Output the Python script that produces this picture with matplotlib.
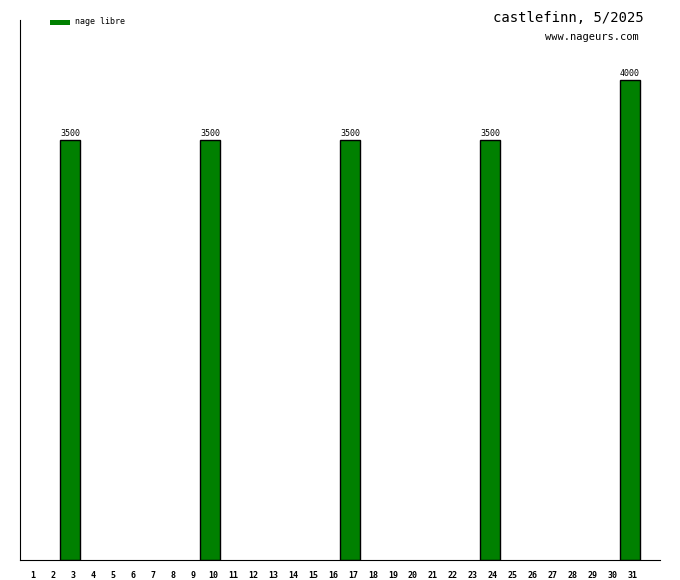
import matplotlib
matplotlib.use('Agg')
import matplotlib.pyplot as plt
import matplotlib.transforms as mtransforms
from matplotlib.patches import Rectangle

# data
days = list(range(1, 32))
swim_days = [3, 10, 17, 24, 31]
swim_values = [3500, 3500, 3500, 3500, 4000]
title = 'castlefinn, 5/2025'
site = 'www.nageurs.com'
legend_label = 'nage libre'

W, H = 680, 580
fig = plt.figure(figsize=(W / 100, H / 100), dpi=100)
ax = fig.add_axes([20 / W, 20 / H, 640 / W, 540 / H])

ax.bar(swim_days, swim_values, width=1.0, color='#008000', edgecolor='black', linewidth=1)
for d, v in zip(swim_days, swim_values):
    ax.text(d, v + 20, str(v), ha='center', va='bottom', fontsize=6, family='DejaVu Sans Mono')

ax.set_xlim(0.5, 32.5)
ax.set_ylim(0, 4500)
ax.set_xticks(days)
ax.set_xticklabels([str(d) for d in days], fontsize=6, family='DejaVu Sans Mono', fontweight='bold')
ax.tick_params(axis='x', length=0, pad=8)
# labels sit a few pixels right of the slot centre in the reference
shift = mtransforms.ScaledTranslation(3 / 100, 0, fig.dpi_scale_trans)
for lbl in ax.get_xticklabels():
    lbl.set_transform(lbl.get_transform() + shift)
ax.set_yticks([])
for s in ['top', 'right']:
    ax.spines[s].set_visible(False)

fig.text(644 / W, 1 - 18 / H, title, ha='right', va='center', fontsize=10, family='DejaVu Sans Mono')
fig.text(639 / W, 1 - 37 / H, site, ha='right', va='center', fontsize=7.5, family='DejaVu Sans Mono')
fig.patches.append(Rectangle((50 / W, 1 - 25 / H), 20 / W, 5 / H, transform=fig.transFigure,
                             facecolor='#008000', edgecolor='none'))
fig.text(75 / W, 1 - 22 / H, legend_label, ha='left', va='center', fontsize=6, family='DejaVu Sans Mono')

fig.savefig('out.png', dpi=100)
